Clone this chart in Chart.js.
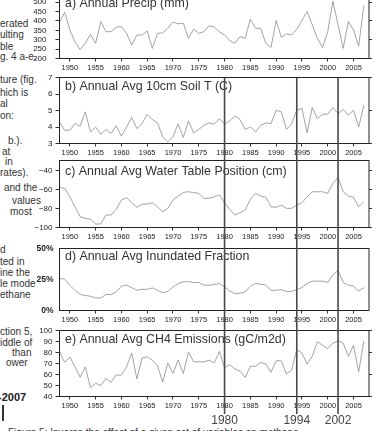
<!DOCTYPE html>
<html><head><meta charset="utf-8">
<script src="https://cdn.jsdelivr.net/npm/chart.js@4/dist/chart.umd.min.js"></script>
<style>
html,body{margin:0;padding:0;width:381px;height:431px;overflow:hidden;background:#fff;}
body{position:relative;font-family:"Liberation Sans",Arial,sans-serif;}
.t{position:absolute;font-size:10px;line-height:10px;color:#333;white-space:nowrap;}
canvas{position:absolute;left:0;}
</style></head><body>
<div class="t" style="left:0;top:19px">erated</div>
<div class="t" style="left:0;top:30px">ulting</div>
<div class="t" style="left:0;top:42px">ble</div>
<div class="t" style="left:0;top:52px">g. 4 a-e.</div>
<div class="t" style="left:0;top:75px">ture (fig.</div>
<div class="t" style="left:0;top:88px">hich is</div>
<div class="t" style="left:0;top:99px">al</div>
<div class="t" style="left:0;top:111px">on:</div>
<div class="t" style="left:8px;top:136px">b.).</div>
<div class="t" style="left:2px;top:147px">at</div>
<div class="t" style="left:5px;top:157px">in</div>
<div class="t" style="left:0;top:168px">rates).</div>
<div class="t" style="left:4px;top:183px">and the</div>
<div class="t" style="left:12px;top:196px">values</div>
<div class="t" style="left:10px;top:207px">most</div>
<div class="t" style="left:0;top:245px">d</div>
<div class="t" style="left:0;top:257px">ted in</div>
<div class="t" style="left:0;top:268px">ine the</div>
<div class="t" style="left:0;top:279px">le mode</div>
<div class="t" style="left:0;top:290px">ethane</div>
<div class="t" style="left:0;top:327px">ction 5,</div>
<div class="t" style="left:0;top:338px">iddle of</div>
<div class="t" style="left:12px;top:348px">than</div>
<div class="t" style="left:6px;top:358px">ower</div>
<div class="t" style="left:-2px;top:392px;font-weight:bold;font-size:11px;color:#222">-2007</div>
<div style="position:absolute;left:2px;top:405px;width:1.5px;height:16px;background:#333"></div>
<div class="t" style="left:8px;top:428px">Figure 5: Inverse the effect of a given set of variables on methane</div>

<canvas id="pa" width="381" height="92"></canvas>
<canvas id="pb" width="381" height="94"></canvas>
<canvas id="pc" width="381" height="95"></canvas>
<canvas id="pd" width="381" height="90"></canvas>
<canvas id="pe" width="381" height="94"></canvas>
<canvas id="ov" width="381" height="431"></canvas>
<script>
const years = [1948,1949,1950,1951,1952,1953,1954,1955,1956,1957,1958,1959,1960,1961,1962,1963,1964,1965,1966,1967,
1968,1969,1970,1971,1972,1973,1974,1975,1976,1977,1978,1979,1980,1981,1982,1983,1984,1985,1986,1987,
1988,1989,1990,1991,1992,1993,1994,1995,1996,1997,1998,1999,2000,2001,2002,2003,2004,2005,2006,2007];

const precip = [391,447,352,289,248,281,329,281,397,343,343,367,370,334,271,325,325,347,254,334,
337,361,394,385,388,307,356,334,343,374,367,343,325,295,281,316,307,410,361,361,
281,259,402,313,331,325,356,402,451,379,307,259,343,505,379,254,397,352,266,483];

const soilT = [4.31,3.8,3.8,4.21,4.05,4.92,3.70,4.0,3.56,3.85,3.6,4.07,3.44,4.0,4.58,3.9,4.2,4.78,4.45,4.25,
3.4,3.1,3.4,4.2,3.36,4.37,3.64,3.85,4.1,4.25,4.17,4.51,4.17,4.37,4.67,4.45,3.85,4.0,3.70,4.1,
4.25,4.2,5.02,4.92,3.85,4.2,5.02,5.12,3.64,5.18,4.51,4.78,4.78,5.18,4.82,5.06,4.72,5.02,4.0,5.32];

const waterTable = [-57.5,-58.5,-67.4,-78,-88.6,-90.3,-91.3,-96.3,-96.3,-86.8,-86.8,-80.7,-70.9,-68.5,-73.8,-78.6,-75.4,-75,-73.8,-78,
-83.3,-79.7,-70.9,-66.7,-62.8,-62.1,-63,-63.8,-69.1,-69.1,-67.4,-65.6,-73.8,-80.7,-86.8,-84.3,-81.5,-70.2,-63.8,-66.7,
-68,-78,-78.6,-76.2,-79.7,-79.7,-76.2,-73.8,-67.4,-62.1,-62.1,-62.1,-63.8,-53.2,-46.9,-62.1,-66.7,-68,-78,-72.7];

const inundated = [26,25.2,20.4,16.3,12.9,12.1,11.5,10.1,10.1,12.9,12.9,14.9,19.6,20.4,18.5,16.3,17.1,17.1,18.2,16.3,
14.3,15.4,19,21.8,23.2,23.2,22.6,22.6,20.4,20.4,21,21.8,19,15.7,13.5,14,14.9,19.6,21.8,21.2,
20.4,16.3,16.3,16.8,15.4,15.4,16.8,18.5,21.8,23.7,23.7,23.7,22.6,28.7,32.3,22.6,20.4,19.6,15.7,18.5];

const ch4 = [81,71,76,67,57.5,67,48,52,50,56.5,53,59.5,59.5,67,79.5,56,75,76,73,68,
53,70.5,61,73,61,80.5,71.5,71.5,71.5,73,70.5,81,66,69,65,63,57.5,67.5,67.5,71,
69.5,62,72.5,72.5,60.5,64,82.5,79.5,69.5,76.5,90,86.5,83.5,88.5,90.5,88.5,76.5,86.5,62.5,90.5];

const xTickLabels = [1950,1955,1960,1965,1970,1975,1980,1985,1990,1995,2000,2005];
const precipTicks = [200,250,300,350,400,450,500];
const soilTicks = [3,4,5,6,7];
const wtTicks = [-100,-80,-60,-40];
const inundTicks = [0,25,50];
const ch4Ticks = [40,50,60,70,80,90,100];
const markerYears = [1980,1994,2002];
const markerLabels = ['1980','1994','2002'];

const X_MIN = 1948, X_MAX = 2008;
const LEFT_W = 59.5, RIGHT_W = 12, PAD_TOP = 10.5, X_H = 17.5;
const FONT = '"Liberation Sans", Arial, sans-serif';

const framePlugin = {
  id:'frame',
  afterDraw(chart){
    const a = chart.chartArea, ctx = chart.ctx, o = chart.options.plugins.frame;
    ctx.save();
    ctx.strokeStyle = '#222'; ctx.lineWidth = 1;
    ctx.strokeRect(a.left, a.top, a.right - a.left, a.bottom - a.top);
    ctx.fillStyle = '#333';
    ctx.font = '12.4px ' + FONT;
    ctx.textBaseline = 'middle'; ctx.textAlign = 'left';
    ctx.fillText(o.title, a.left + 5.5, a.top + o.titleDy);
    ctx.restore();
  }
};

function panel(id, top, vals, min, max, ticks, title, titleDy, opts){
  const cv = document.getElementById(id);
  cv.style.top = (top - PAD_TOP) + 'px';
  const setTicks = s => { s.ticks = ticks.map(v => ({value:v})); };
  new Chart(cv, {
    type:'line',
    data:{datasets:[{data: years.map((y,i)=>({x:y, y:vals[i]})), borderColor:'#999', borderWidth:0.9,
      pointRadius:0, tension:0, fill:false}]},
    options:{
      responsive:false, animation:false, devicePixelRatio:1,
      layout:{padding:{top:PAD_TOP,left:0,right:0,bottom:0}},
      plugins:{legend:{display:false}, tooltip:{enabled:false}, frame:{title, titleDy}},
      scales:{
        x:{type:'linear', min:X_MIN, max:X_MAX, position:'bottom',
          afterBuildTicks: s => { s.ticks = xTickLabels.map(v => ({value:v})); },
          afterFit: s => { s.height = X_H; s.paddingLeft = 0; s.paddingRight = 0; },
          grid:{drawOnChartArea:false, drawTicks:true, tickLength:3, color:'#333'},
          border:{display:false},
          ticks:{font:{family:'"Liberation Sans Narrow", "Liberation Sans", Arial', size:7.5}, color:'#222',
            padding:2, maxRotation:0, autoSkip:false, callback: v => String(v)}
        },
        y:{type:'linear', position:'left', min, max,
          afterBuildTicks: setTicks,
          afterFit: s => { s.width = LEFT_W; s.paddingTop = 0; s.paddingBottom = 0; },
          grid:{drawOnChartArea:false, drawTicks:true, tickLength:opts.tickLen, color:'#333'},
          border:{display:false},
          ticks:{font:{family:FONT, size:opts.fontSize, weight:opts.bold ? 'bold' : 'normal'}, color:'#222',
            padding:opts.pad, autoSkip:false, callback: opts.fmt}
        },
        y2:{type:'linear', position:'right', min, max,
          afterBuildTicks: setTicks,
          afterFit: s => { s.width = RIGHT_W; s.paddingTop = 0; s.paddingBottom = 0; },
          grid:{drawOnChartArea:false, drawTicks:true, tickLength:opts.rTickLen, color:'#333'},
          border:{display:false},
          ticks:{callback: () => '', padding:0}
        }
      }
    },
    plugins:[framePlugin]
  });
}

const plain = v => String(v);
const minus = v => v < 0 ? '\u2212' + Math.abs(v) : String(v);
const pct = v => v + '%';

panel('pa', -5.5, precip, 200, 541, precipTicks, 'a) Annual Precip (mm)', 9.5, {tickLen:4, rTickLen:3, pad:9, fontSize:8, fmt:plain});
panel('pb', 77.5, soilT, 3, 7, soilTicks, 'b) Annual Avg 10cm Soil T (C)', 9.5, {tickLen:4, rTickLen:3, pad:3, fontSize:8, fmt:plain});
panel('pc', 160.5, waterTable, -100, -29, wtTicks, 'c) Annual Avg Water Table Position (cm)', 11, {tickLen:4, rTickLen:3, pad:3, fontSize:8, fmt:minus});
panel('pd', 248.5, inundated, 0, 50, inundTicks, 'd) Annual Avg Inundated Fraction', 8, {tickLen:0, rTickLen:0, pad:6, fontSize:8.5, bold:true, fmt:pct});
panel('pe', 330.5, ch4, 40, 100, ch4Ticks, 'e) Annual Avg CH4 Emissions (gC/m2d)', 9.5, {tickLen:4, rTickLen:3, pad:3, fontSize:8, fmt:plain});

const LINE_TOP = 77.5, LINE_BOTTOM = 414, LABEL_Y = 421;
const markerPlugin = {
  id:'markers',
  afterDraw(chart){
    const ctx = chart.ctx, xs = chart.scales.x;
    ctx.save();
    ctx.strokeStyle = '#4a4a4a'; ctx.lineWidth = 1.6;
    ctx.fillStyle = '#444'; ctx.font = '12px ' + FONT;
    ctx.textAlign = 'center'; ctx.textBaseline = 'middle';
    markerYears.forEach((yr,i) => {
      const px = xs.getPixelForValue(yr);
      ctx.beginPath(); ctx.moveTo(px, LINE_TOP); ctx.lineTo(px, LINE_BOTTOM); ctx.stroke();
      ctx.fillText(markerLabels[i], px, LABEL_Y);
    });
    ctx.restore();
  }
};
const ov = document.getElementById('ov');
ov.style.top = '0px'; ov.style.pointerEvents = 'none';
new Chart(ov, {
  type:'line',
  data:{datasets:[]},
  options:{
    responsive:false, animation:false, devicePixelRatio:1,
    layout:{padding:{left:LEFT_W, right:RIGHT_W, top:0, bottom:0}},
    plugins:{legend:{display:false}, tooltip:{enabled:false}},
    scales:{
      x:{type:'linear', min:X_MIN, max:X_MAX, display:false},
      y:{type:'linear', min:0, max:1, display:false}
    }
  },
  plugins:[markerPlugin]
});
</script>
</body></html>
